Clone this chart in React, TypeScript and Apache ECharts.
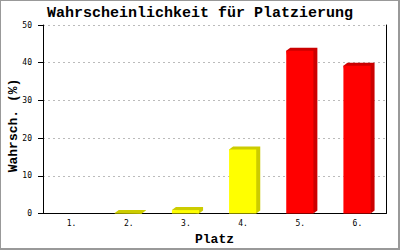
import React, { useEffect, useRef } from "react";
import * as echarts from "echarts";

const categories = ["1.", "2.", "3.", "4.", "5.", "6."];
const values = [0, 0.1, 0.9, 17.0, 43.2, 39.2];
const barColors = ["yellow", "yellow", "yellow", "yellow", "red", "red"];
const yTicks = { min: 0, max: 50, interval: 10 };
const titleText = "Wahrscheinlichkeit für Platzierung";
const xName = "Platz";
const yName = "Wahrsch. (%)";

const palette: Record<string, { front: string; side: string }> = {
  yellow: { front: "#ffff00", side: "#cccc00" },
  red: { front: "#ff0000", side: "#cc0000" },
};

export default function App() {
  const ref = useRef<HTMLDivElement>(null);
  useEffect(() => {
    if (!ref.current) return;
    const chart = echarts.init(ref.current, undefined, { renderer: "svg" });
    const dx = 4;
    const dy = 3;
    const nameStyle = {
      fontFamily: "Liberation Mono",
      fontWeight: "bold",
      fontSize: 13,
      fill: "#000",
      textAlign: "center",
      textVerticalAlign: "middle",
    };
    chart.setOption({
      animation: false,
      backgroundColor: "#ffffff",
      grid: {
        left: 43,
        right: 14,
        top: 25,
        bottom: 36.5,
        containLabel: false,
        outerBoundsMode: "none",
      },
      graphic: [
        {
          type: "text",
          x: 200,
          y: 13,
          style: {
            text: titleText,
            fontFamily: "Liberation Mono",
            fontWeight: "bold",
            fontSize: 15,
            fill: "#000",
            textAlign: "center",
            textVerticalAlign: "middle",
          },
        },
        {
          type: "text",
          x: 13,
          y: 125.5,
          rotation: Math.PI / 2,
          style: { ...nameStyle, text: yName },
        },
        {
          type: "text",
          x: 214.5,
          y: 239,
          style: { ...nameStyle, text: xName },
        },
      ],
      xAxis: {
        type: "category",
        data: categories,
        axisLine: { show: true, lineStyle: { color: "#000", width: 1 } },
        axisTick: { show: false },
        axisLabel: {
          fontFamily: "DejaVu Sans Mono",
          fontSize: 8,
          color: "#000",
          margin: 6,
        },
        splitLine: { show: false },
      },
      yAxis: [
        {
          type: "value",
          min: yTicks.min,
          max: yTicks.max,
          interval: yTicks.interval,
          axisLine: { show: true, lineStyle: { color: "#000", width: 1 } },
          axisTick: { show: true, inside: false, length: 5, lineStyle: { color: "#000" } },
          axisLabel: {
            fontFamily: "DejaVu Sans Mono",
            fontSize: 8,
            color: "#000",
            margin: 11,
          },
          splitLine: {
            show: true,
            lineStyle: { color: "#bbbbbb", width: 1, type: [2, 3] },
          },
        },
        {
          type: "value",
          position: "right",
          min: yTicks.min,
          max: yTicks.max,
          interval: yTicks.interval,
          axisLine: { show: true, lineStyle: { color: "#000", width: 1 } },
          axisTick: { show: false },
          axisLabel: { show: false },
          splitLine: { show: false },
        },
      ],
      series: [
        {
          type: "custom",
          data: values.map((v, i) => [i, v]),
          encode: { x: 0, y: 1 },
          renderItem: (params: any, api: any) => {
            const idx = api.value(0);
            const v = api.value(1);
            if (!(v > 0)) return null;
            const base = api.coord([idx, 0]);
            const top = api.coord([idx, v]);
            const bw = api.size([1, 0])[0];
            const c = base[0];
            const x0 = c - bw * 0.245;
            const x1 = c + bw * 0.23;
            const yb = base[1];
            const yt = top[1];
            const col = palette[barColors[idx]];
            return {
              type: "group",
              children: [
                {
                  type: "polygon",
                  shape: {
                    points: [
                      [x0, yt],
                      [x0 + dx, yt - dy],
                      [x1 + dx, yt - dy],
                      [x1 + dx, yb - dy],
                      [x1, yb],
                    ],
                  },
                  style: { fill: col.side },
                },
                {
                  type: "rect",
                  shape: { x: x0, y: yt, width: x1 - x0, height: yb - yt },
                  style: { fill: col.front },
                },
              ],
            };
          },
        },
      ],
    });
    return () => chart.dispose();
  }, []);
  return (
    <div style={{ position: "fixed", left: 0, top: 0, width: 400, height: 250 }}>
      <div ref={ref} style={{ position: "absolute", left: 0, top: 0, width: 400, height: 250 }} />
      <div
        style={{
          position: "absolute",
          left: 0,
          top: 0,
          width: 400,
          height: 250,
          boxSizing: "border-box",
          borderTop: "1px solid #999",
          borderLeft: "1px solid #999",
          borderRight: "2px solid #999",
          borderBottom: "2px solid #999",
          pointerEvents: "none",
        }}
      />
    </div>
  );
}
